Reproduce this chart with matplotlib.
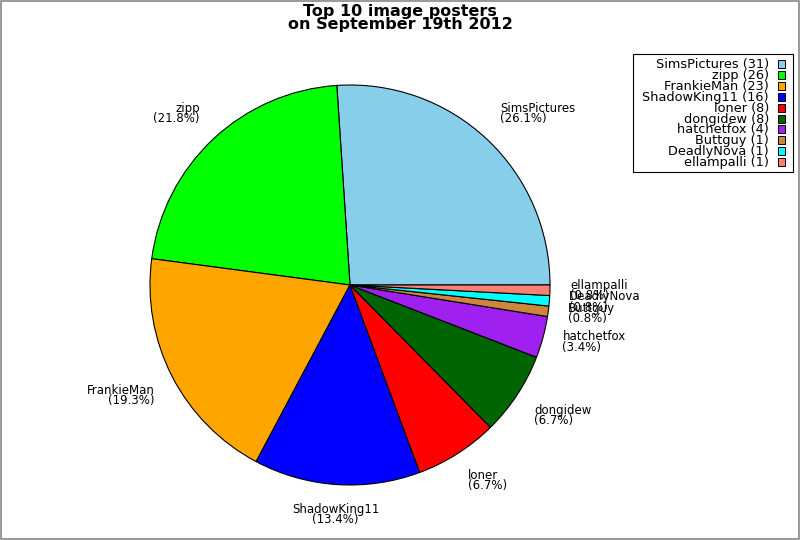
import matplotlib
matplotlib.use('Agg')
import matplotlib.pyplot as plt
from matplotlib.patches import Rectangle
import numpy as np

names = ['SimsPictures', 'zipp', 'FrankieMan', 'ShadowKing11', 'loner',
         'dongidew', 'hatchetfox', 'Buttguy', 'DeadlyNova', 'ellampalli']
counts = [31, 26, 23, 16, 8, 8, 4, 1, 1, 1]
colors = ['#87ceeb', '#00ff00', '#ffa500', '#0000ff', '#ff0000',
          '#006400', '#a020f0', '#cd853f', '#00ffff', '#fa8072']
title_lines = ['Top 10 image posters', 'on September 19th 2012']

W, H = 800, 540
fig = plt.figure(figsize=(8, 5.4), dpi=100)
ax = fig.add_axes([0, 0, 1, 1])

cx, cy, R = 350, 285, 200
wedges, _ = ax.pie(counts, colors=colors, startangle=0, counterclock=False,
                   center=(cx, cy), radius=R,
                   wedgeprops=dict(edgecolor='black', linewidth=0.8))
ax.set_xlim(0, W)
ax.set_ylim(H, 0)
ax.set_aspect('auto')
ax.axis('off')

total = sum(counts)
lab_fs = 8.5
ls = 10.3
for w, n, c in zip(wedges, names, counts):
    thd = (w.theta1 + w.theta2) / 2.0
    th = np.deg2rad(thd)
    px = cx + 1.1 * R * np.cos(th)
    py = cy + 1.1 * R * np.sin(th)
    vis = (-thd) % 360.0          # visual angle, counter-clockwise
    sector = int(((vis + 22.5) % 360) // 45)   # 0=E,1=NE,2=N,...
    if sector in (0, 1, 7):
        ha = 'left'
    elif sector in (3, 4, 5):
        ha = 'right'
    else:
        ha = 'center'
    if sector in (1, 2, 3):       # upper: block above anchor
        b2 = py - 2.5
        b1 = b2 - ls
    elif sector in (5, 6, 7):     # lower: block below anchor
        b1 = py + 8.0
        b2 = b1 + ls
    else:
        b1 = py - 2.0
        b2 = b1 + ls
    ax.text(px, b1, n, ha=ha, va='baseline', fontsize=lab_fs, color='black')
    ax.text(px, b2, '(%.1f%%)' % (100.0 * c / total), ha=ha, va='baseline',
            fontsize=lab_fs, color='black')

# title
ax.text(400, 16, title_lines[0], ha='center', va='baseline', fontsize=11.5,
        fontweight='bold')
ax.text(400, 29, title_lines[1], ha='center', va='baseline', fontsize=11.5,
        fontweight='bold')

# legend
leg_fs = 9.3
ax.add_patch(Rectangle((633, 54), 160, 118, facecolor='white',
                       edgecolor='black', linewidth=0.8))
for i, (n, c, col) in enumerate(zip(names, counts, colors)):
    base = 68 + i * 10.9
    ax.text(769, base, '%s (%d)' % (n, c), ha='right', va='baseline',
            fontsize=leg_fs)
    ax.add_patch(Rectangle((778, base - 8), 7, 8, facecolor=col,
                           edgecolor='black', linewidth=0.7))

# outer frame
ax.add_patch(Rectangle((0.5, 0.5), W - 2, H - 2, facecolor='none',
                       edgecolor='#888888', linewidth=1.2))

fig.savefig('out.png', dpi=100)
